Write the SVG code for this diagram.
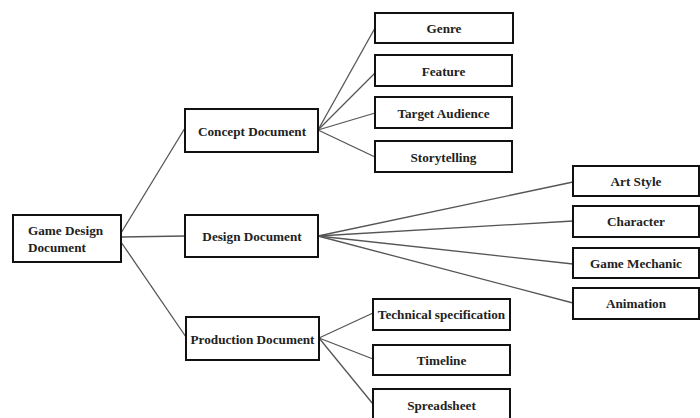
<svg xmlns="http://www.w3.org/2000/svg" width="700" height="418" viewBox="0 0 700 418">
<style>
.box{fill:#fff;stroke:#111;stroke-width:2}
.t{font-family:"Liberation Serif","Times New Roman",serif;font-weight:bold;font-size:13.2px;fill:#222;text-anchor:middle}
.tl{text-anchor:start}
.c line{stroke:#555;stroke-width:1.3}
</style>
<rect width="700" height="418" fill="#fff"/>
<g class="c" id="connectors">
<line x1="121" y1="233" x2="185" y2="128"/>
<line x1="121" y1="237" x2="185" y2="236"/>
<line x1="121" y1="242" x2="186" y2="337"/>
<line x1="318" y1="130" x2="375" y2="28"/>
<line x1="318" y1="130" x2="375" y2="73"/>
<line x1="318" y1="130" x2="375" y2="113"/>
<line x1="318" y1="130" x2="375" y2="157"/>
<line x1="318" y1="236" x2="573" y2="182"/>
<line x1="318" y1="236" x2="573" y2="221"/>
<line x1="318" y1="236" x2="573" y2="264"/>
<line x1="318" y1="236" x2="573" y2="303"/>
<line x1="319" y1="338" x2="373" y2="313"/>
<line x1="319" y1="338" x2="373" y2="359"/>
<line x1="319" y1="338" x2="373" y2="404"/>
</g>
<g id="root"><rect class="box" x="13" y="215" width="108" height="47"/><text class="t tl" x="28" y="235">Game Design</text><text class="t tl" x="28" y="252">Document</text></g>
<g id="concept"><rect class="box" x="185" y="109" width="133" height="43"/><text class="t" x="252" y="135.5">Concept Document</text></g>
<g id="design"><rect class="box" x="185" y="215" width="133" height="42"/><text class="t" x="252" y="240.5">Design Document</text></g>
<g id="production"><rect class="box" x="186" y="317" width="133" height="43"/><text class="t" x="252.5" y="343.5">Production Document</text></g>
<g id="genre"><rect class="box" x="375" y="13" width="138" height="30"/><text class="t" x="444" y="32.5">Genre</text></g>
<g id="feature"><rect class="box" x="375" y="55" width="137" height="31"/><text class="t" x="443.5" y="75.5">Feature</text></g>
<g id="target"><rect class="box" x="375" y="97" width="137" height="31"/><text class="t" x="443.5" y="117.5">Target Audience</text></g>
<g id="story"><rect class="box" x="375" y="141" width="137" height="31"/><text class="t" x="443.5" y="161.5">Storytelling</text></g>
<g id="artstyle"><rect class="box" x="573" y="166" width="126" height="30"/><text class="t" x="636" y="186">Art Style</text></g>
<g id="character"><rect class="box" x="573" y="206" width="126" height="31"/><text class="t" x="636" y="226">Character</text></g>
<g id="mechanic"><rect class="box" x="573" y="248" width="126" height="30"/><text class="t" x="636" y="268">Game Mechanic</text></g>
<g id="animation"><rect class="box" x="573" y="288" width="126" height="31"/><text class="t" x="636" y="308">Animation</text></g>
<g id="tech"><rect class="box" x="373" y="299" width="137" height="31"/><text class="t" x="441.5" y="319">Technical specification</text></g>
<g id="timeline"><rect class="box" x="373" y="345" width="137" height="30"/><text class="t" x="441.5" y="364.5">Timeline</text></g>
<g id="spreadsheet"><rect class="box" x="373" y="389" width="137" height="31"/><text class="t" x="441.5" y="409.5">Spreadsheet</text></g>
</svg>
